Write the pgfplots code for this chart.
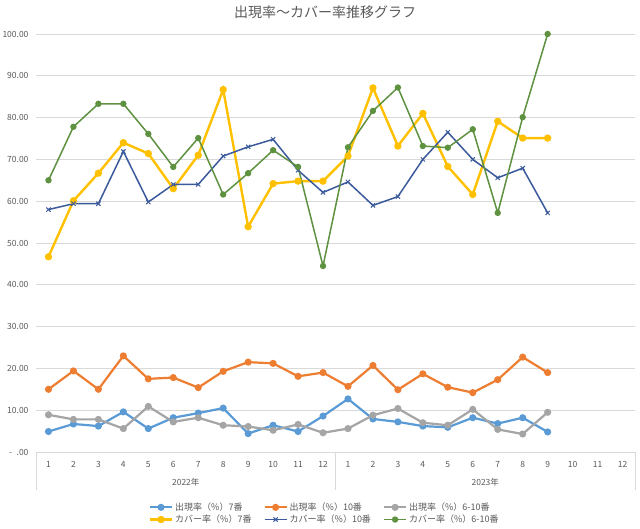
\documentclass[border=0pt]{standalone}
\usepackage{fontspec}
\setmainfont{Noto Sans CJK JP}
\usepackage{pgfplots}
\pgfplotsset{compat=1.18}
\usepackage{pgfplotstable}
\definecolor{cA}{HTML}{5B9BD5}
\definecolor{cB}{HTML}{ED7D31}
\definecolor{cC}{HTML}{A5A5A5}
\definecolor{cD}{HTML}{FFC000}
\definecolor{cE}{HTML}{3A5A9C}
\definecolor{cF}{HTML}{5E9140}
\definecolor{gridgray}{HTML}{D9D9D9}
\definecolor{textgray}{HTML}{595959}

% x: 1-12 = 2022/1-12, 13-21 = 2023/1-9
\pgfplotstableread{
x y
1 4.9
2 6.7
3 6.2
4 9.6
5 5.6
6 8.2
7 9.3
8 10.5
9 4.4
10 6.4
11 4.9
12 8.6
13 12.7
14 7.9
15 7.2
16 6.2
17 5.9
18 8.2
19 6.8
20 8.2
21 4.8
}\tA
\pgfplotstableread{
x y
1 15.0
2 19.4
3 15.0
4 23.0
5 17.5
6 17.8
7 15.4
8 19.3
9 21.5
10 21.2
11 18.1
12 19.0
13 15.7
14 20.7
15 14.9
16 18.7
17 15.5
18 14.2
19 17.3
20 22.7
21 19.0
}\tB
\pgfplotstableread{
x y
1 8.9
2 7.8
3 7.8
4 5.6
5 10.9
6 7.2
7 8.2
8 6.4
9 6.1
10 5.2
11 6.6
12 4.6
13 5.6
14 8.8
15 10.4
16 7.0
17 6.4
18 10.2
19 5.4
20 4.3
21 9.5
}\tC
\pgfplotstableread{
x y
1 46.7
2 60.1
3 66.7
4 74.0
5 71.4
6 63.0
7 71.0
8 86.7
9 53.9
10 64.2
11 64.8
12 64.8
13 70.8
14 87.1
15 73.2
16 81.0
17 68.3
18 61.6
19 79.1
20 75.1
21 75.1
}\tD
\pgfplotstableread{
x y
1 58.0
2 59.4
3 59.4
4 71.9
5 59.8
6 64.0
7 64.0
8 70.8
9 73.0
10 74.8
11 67.4
12 62.1
13 64.6
14 59.0
15 61.1
16 70.0
17 76.5
18 70.0
19 65.6
20 67.9
21 57.2
}\tE
\pgfplotstableread{
x y
1 65.0
2 77.8
3 83.3
4 83.3
5 76.1
6 68.2
7 75.1
8 61.6
9 66.7
10 72.2
11 68.2
12 44.5
13 72.9
14 81.6
15 87.2
16 73.2
17 72.8
18 77.2
19 57.2
20 80.1
21 100.0
}\tF

\begin{document}
\begin{tikzpicture}
\path[use as bounding box] (0,0) rectangle (640pt,529pt);
\begin{axis}[
  at={(36pt,77pt)}, anchor=south west,
  scale only axis, width=599pt, height=418pt,
  xmin=0.5, xmax=24.5, ymin=0, ymax=100,
  axis line style={draw=none},
  major tick length=0pt,
  ymajorgrids, grid style={color=gridgray, line width=0.75pt},
  xtick={1,2,...,24},
  xticklabels={1,2,3,4,5,6,7,8,9,10,11,12,1,2,3,4,5,6,7,8,9,10,11,12},
  ytick={0,10,...,100},
  yticklabels={{-\hspace{0.55em}.00},10.00,20.00,30.00,40.00,50.00,60.00,70.00,80.00,90.00,100.00},
  tick label style={font=\fontsize{8.5}{10}\selectfont, text=textgray},
  yticklabel style={xshift=-4pt},
  xticklabel style={yshift=-6pt},
  title={出現率～カバー率推移グラフ},
  title style={at={(0.4825,1)}, anchor=center, yshift=16pt, font=\fontsize{14}{16}\selectfont, text=textgray},
  clip=false,
  legend columns=3,
  legend cell align=left,
  legend style={draw=none, at={(0.482,-0.147)}, anchor=center,
    font=\fontsize{9}{10}\selectfont, text=textgray,
    /tikz/every even column/.append style={column sep=10pt},
    row sep=-1pt},
  legend image code/.code={\draw[mark repeat=2,mark phase=2] plot coordinates {(0pt,0pt)(11pt,0pt)(22pt,0pt)};},
  every axis plot/.append style={mark=*, mark size=2.4pt},
]
\addplot[cA, line width=2.2pt, mark options={solid}] table {\tA};
\addlegendentry{出現率（\%）7番}
\addplot[cB, line width=2.2pt] table {\tB};
\addlegendentry{出現率（\%）10番}
\addplot[cC, line width=2.2pt] table {\tC};
\addlegendentry{出現率（\%）6-10番}
\addplot[cD, line width=2.4pt] table {\tD};
\addlegendentry{カバー率（\%）7番}
\addplot[cE, line width=1.5pt, mark=x, mark size=3pt, mark options={line width=1pt}] table {\tE};
\addlegendentry{カバー率（\%）10番}
\addplot[cF, line width=1.5pt] table {\tF};
\addlegendentry{カバー率（\%）6-10番}
\draw[gridgray, line width=0.75pt] (axis cs:0.5,0) -- ([yshift=-38pt]axis cs:0.5,0);
\draw[gridgray, line width=0.75pt] (axis cs:12.5,0) -- ([yshift=-38pt]axis cs:12.5,0);
\draw[gridgray, line width=0.75pt] (axis cs:24.5,0) -- ([yshift=-38pt]axis cs:24.5,0);
\node[text=textgray, font=\fontsize{8.5}{10}\selectfont] at (axis cs:6.5,0) [yshift=-30pt] {2022年};
\node[text=textgray, font=\fontsize{8.5}{10}\selectfont] at (axis cs:18.5,0) [yshift=-30pt] {2023年};
\end{axis}
\end{tikzpicture}
\end{document}
